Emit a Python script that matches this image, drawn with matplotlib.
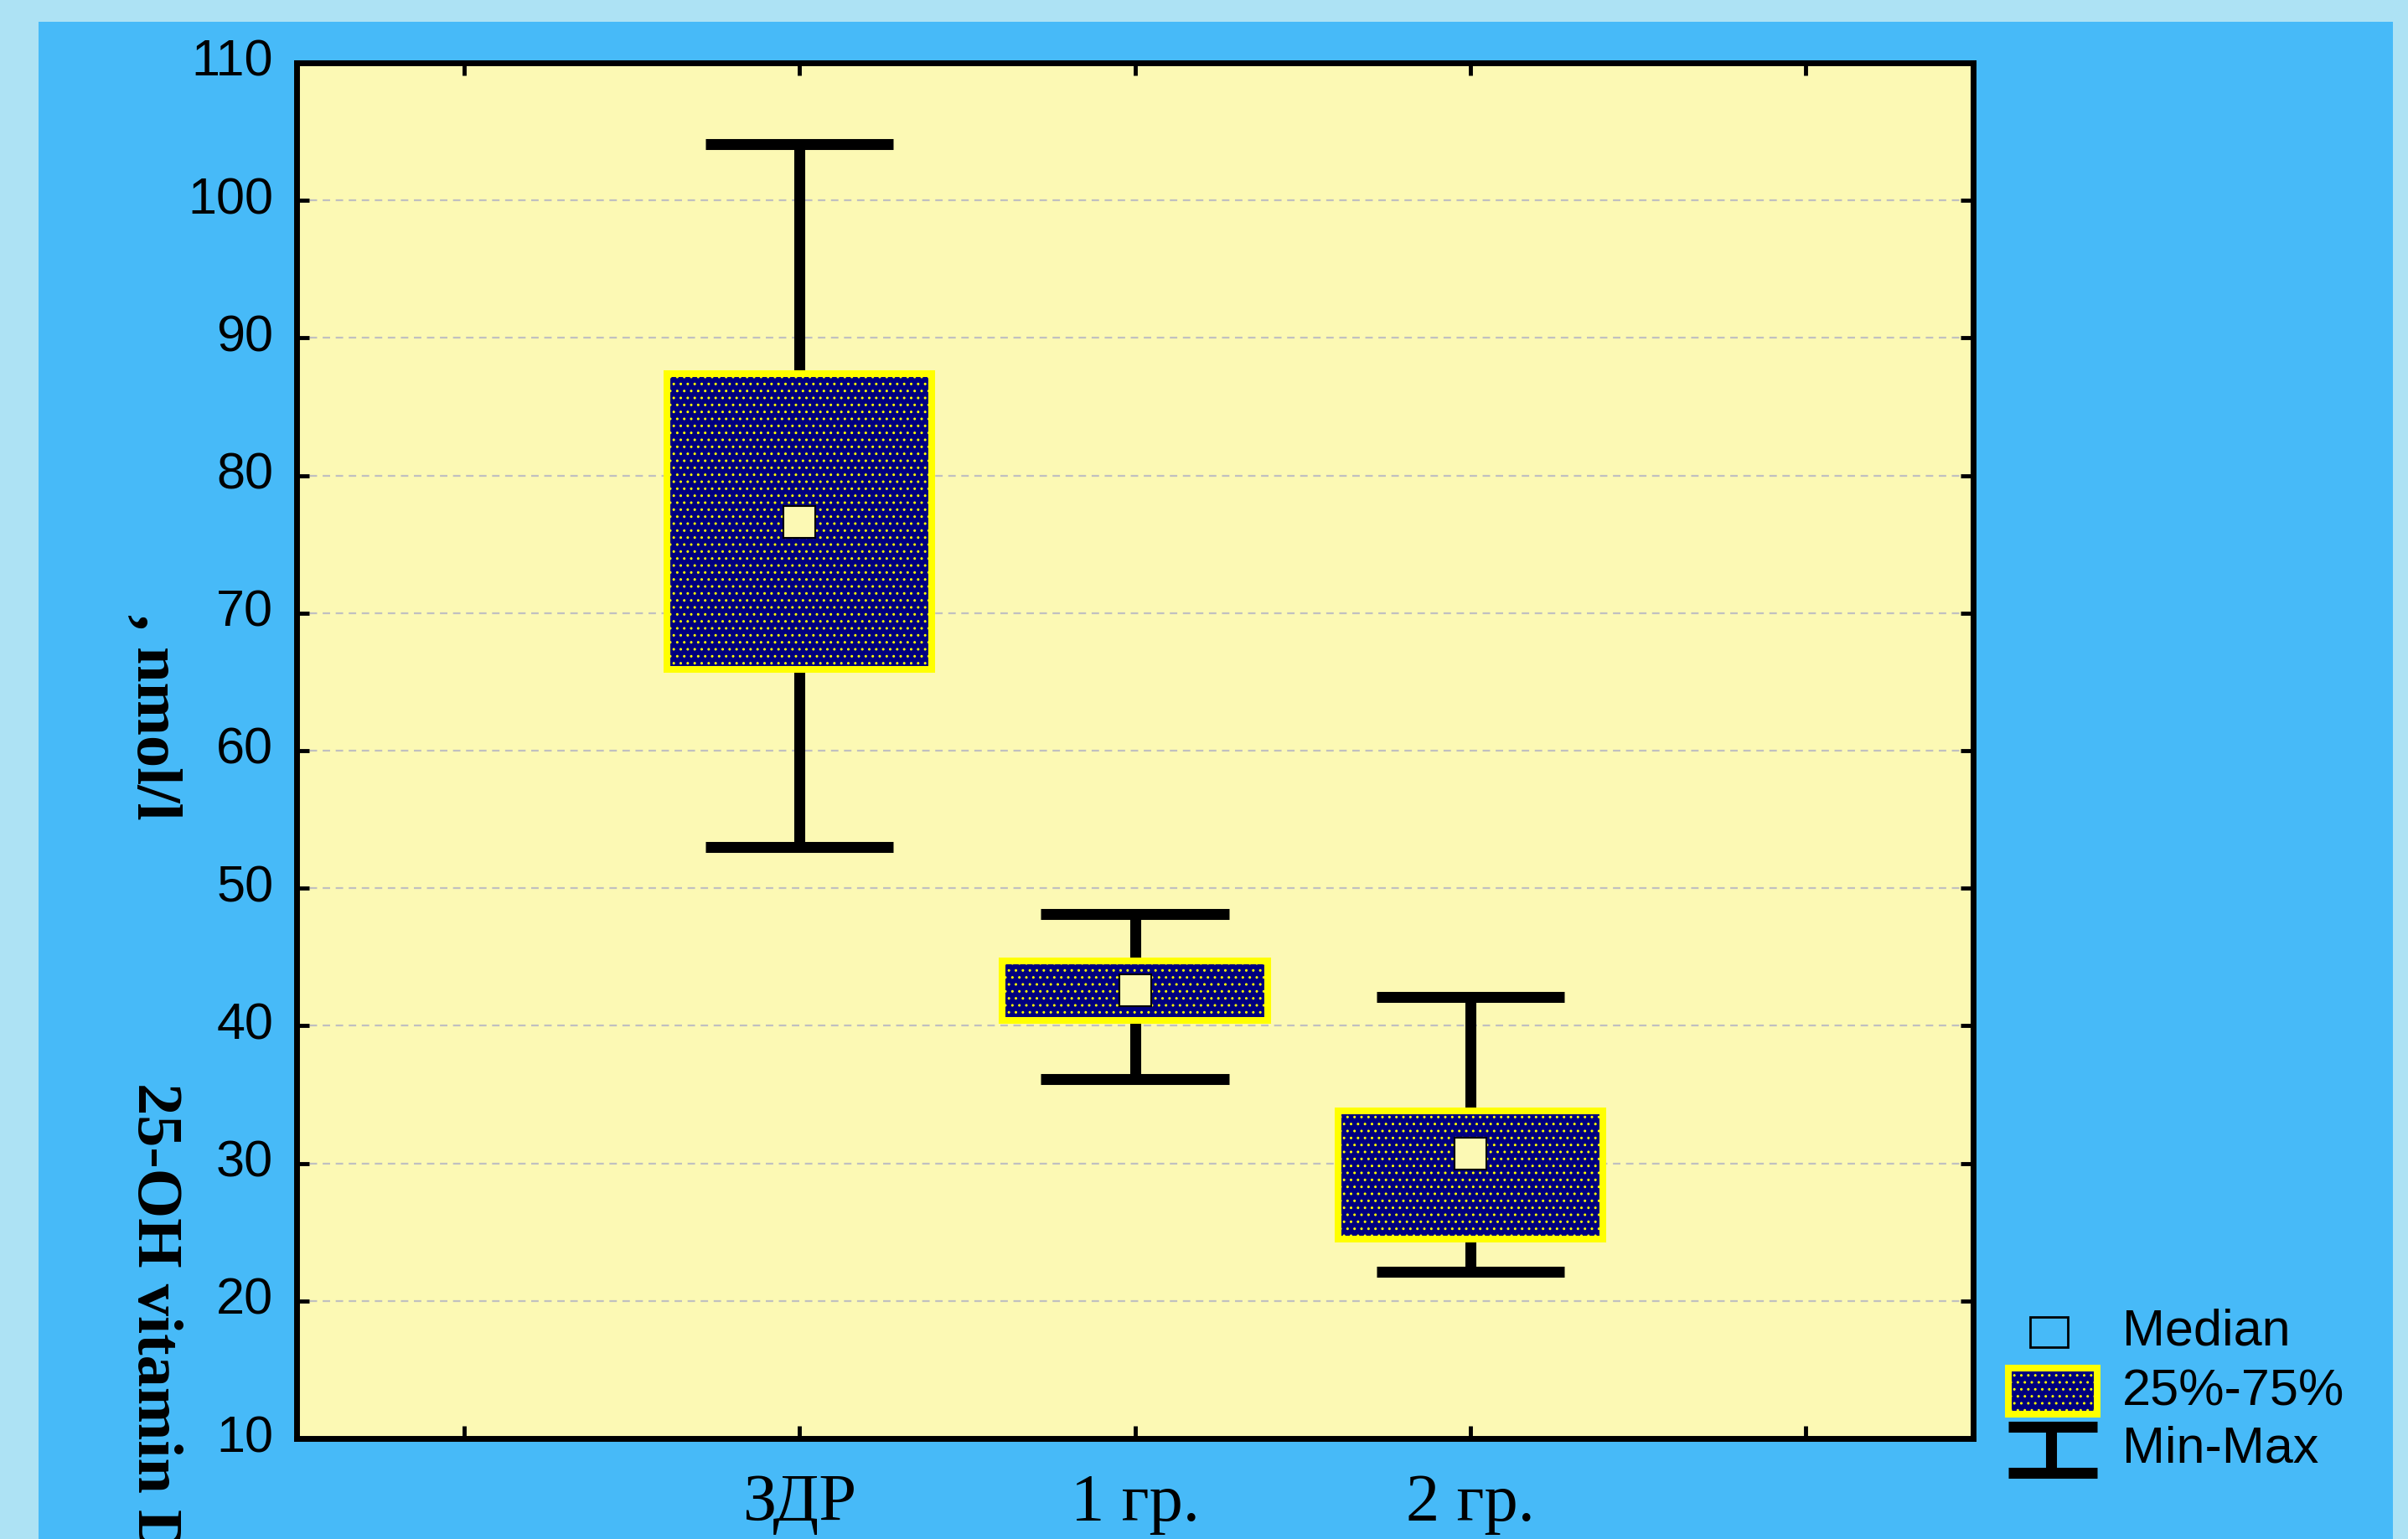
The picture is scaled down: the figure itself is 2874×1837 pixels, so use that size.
import matplotlib
matplotlib.use('Agg')
import numpy as np
import matplotlib.pyplot as plt
from matplotlib.patches import Rectangle
from matplotlib.lines import Line2D
from matplotlib.transforms import ScaledTranslation

# Data
groups = ['ЗДР', '1 гр.', '2 гр.']
positions = [1, 2, 3]
medians = [76.6, 42.6, 30.7]
q25 = [65.9, 40.4, 24.5]
q75 = [87.4, 44.7, 33.8]
mins = [53.0, 36.1, 22.1]
maxs = [104.1, 48.1, 42.1]
y_ticks = list(range(10, 111, 10))

W, H = 2874, 1837
OUTER = '#ade2f4'
PANEL = '#47baf8'
PAPER = '#fcf9b4'
NAVY = '#000080'
YELLOW = '#ffff00'


def px(x, y):
    ''' Pixel position (from top left) to figure fraction.'''
    return x / W, 1 - y / H


fig = plt.figure(figsize=(W / 100, H / 100), dpi=100, facecolor=OUTER)
# Blue panel behind the chart
fig.add_artist(Rectangle(px(46, 1900), (2856 - 46) / W, (1900 - 26) / H,
                         transform=fig.transFigure, facecolor=PANEL,
                         edgecolor='none', zorder=0))

ax = fig.add_axes([354 / W, 1 - 1717 / H, (2355 - 354) / W, (1717 - 75) / H])
ax.set_facecolor(PAPER)

x = np.array(positions)
lo = np.array(q25)
hi = np.array(q75)

# Whiskers and caps
ax.vlines(x, mins, maxs, color='black', linewidth=9.4, zorder=2)
cap = 0.28
ax.hlines(mins, x - cap, x + cap, color='black', linewidth=9.4, zorder=2)
ax.hlines(maxs, x - cap, x + cap, color='black', linewidth=9.4, zorder=2)

# Boxes 25%-75%
ax.bar(x, hi - lo, bottom=lo, width=0.79, color=NAVY, edgecolor=YELLOW,
       linewidth=5.8, hatch='..', zorder=3)

# Medians
ax.plot(x, medians, 's', markersize=28, markerfacecolor=PAPER,
        markeredgecolor='black', markeredgewidth=1.5, zorder=4)

# Axes
ax.set_xlim(-0.5, 4.5)
ax.set_ylim(10, 110)
ax.set_xticks([0, 1, 2, 3, 4])
ax.set_xticklabels([''] + groups + [''], family='Liberation Serif',
                   fontsize=58)
ax.set_yticks(y_ticks)
ax.set_yticklabels([str(v) for v in y_ticks], family='Liberation Sans',
                   fontsize=44)
ax.tick_params(direction='in', length=11, width=3.5, top=True, right=True)
ax.tick_params(axis='x', pad=30)
ax.tick_params(axis='y', pad=20)
for lab in ax.get_yticklabels():
    lab.set_transform(lab.get_transform() +
                      ScaledTranslation(0, 0.06, fig.dpi_scale_trans))
for s in ax.spines.values():
    s.set_linewidth(5)
    s.set_color('black')
ax.yaxis.grid(True, color='#c0c0c0', linestyle=(0, (4, 3)), linewidth=1.6)
ax.set_axisbelow(True)

# Y label (rotated, split as in the original)
fig.text(*px(183, 1292), '25-OH vitamin D', rotation=-90, ha='center',
         va='top', family='Liberation Serif', weight='bold', fontsize=55)
fig.text(*px(183, 733), ', nmol/l', rotation=-90, ha='center',
         va='top', family='Liberation Serif', weight='bold', fontsize=55)

# Legend
lx0, lx1 = 2397, 2503
fig.add_artist(Rectangle(px(2423, 1608), 45 / W, 36 / H,
                         transform=fig.transFigure, facecolor='none',
                         edgecolor='black', linewidth=2))
fig.add_artist(Rectangle(px(lx0, 1688), (lx1 - lx0) / W, 55 / H,
                         transform=fig.transFigure, facecolor=NAVY,
                         edgecolor=YELLOW, linewidth=5.8, hatch='..'))
for yy in (1703, 1758):
    fig.add_artist(Line2D([lx0 / W, lx1 / W], [1 - yy / H, 1 - yy / H],
                          transform=fig.transFigure, color='black',
                          linewidth=9.4, solid_capstyle='butt'))
fig.add_artist(Line2D([2448 / W, 2448 / W], [1 - 1703 / H, 1 - 1758 / H],
                      transform=fig.transFigure, color='black',
                      linewidth=9.4, solid_capstyle='butt'))
for label, yy in (('Median', 1590), ('25%-75%', 1662), ('Min-Max', 1730)):
    fig.text(*px(2533, yy), label, ha='left', va='center',
             family='Liberation Sans', fontsize=44)

fig.savefig('out.png', dpi=100, facecolor=OUTER)
